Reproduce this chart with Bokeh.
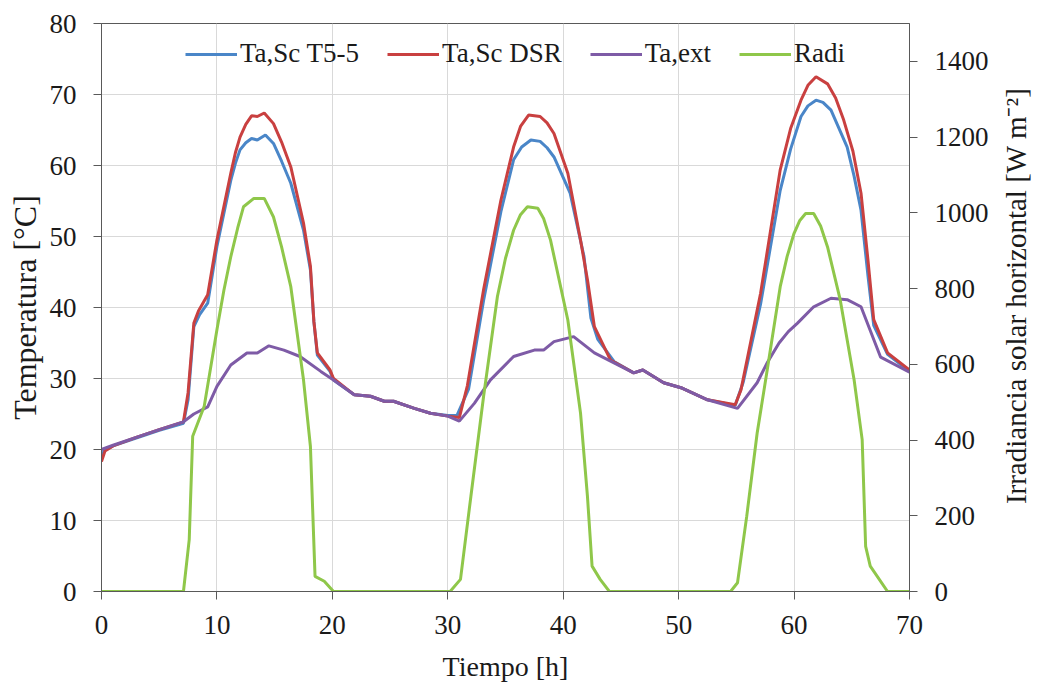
import math
from bokeh.plotting import figure
from bokeh.layouts import row
from bokeh.models import Range1d, LinearAxis, FixedTicker, Legend, LegendItem, Label
from bokeh.embed import file_html
from bokeh.resources import INLINE

# ---- data ----
t_t55 = [0, 0.3, 1, 3, 5, 7.1, 7.5, 8.0, 8.5, 9.2, 10.0, 11.2, 11.6, 12.0, 12.5, 13.0, 13.5, 14.2,
         14.9, 15.6, 16.4, 17.5, 18.1, 18.4, 18.7, 19.8, 20.1, 21.9, 23.3, 24.5, 25.3, 27.1, 28.5,
         30.0, 30.8, 31.8, 33.1, 34.6, 35.7, 36.4, 37.2, 38.0, 38.6, 39.2, 40.6, 41.8, 42.4, 43.0,
         44.4, 46.1, 46.9, 48.7, 50.2, 52.5, 54.9, 55.6, 57.1, 58.8, 59.7, 60.6, 61.2, 61.9, 62.5,
         63.2, 64.6, 65.2, 65.8, 66.4, 66.9, 68.1, 70.0]
T_t55 = [19.3, 19.9, 20.5, 21.6, 22.7, 23.7, 27.0, 37.3, 39.0, 40.6, 48.6, 57.9, 60.3, 62.2, 63.2,
         63.8, 63.6, 64.3, 63.1, 60.6, 57.5, 50.9, 45.3, 38.0, 33.3, 31.0, 29.8, 27.7, 27.5, 26.8,
         26.8, 25.8, 25.1, 24.8, 24.8, 28.5, 41.0, 53.5, 60.8, 62.6, 63.6, 63.4, 62.5, 61.2, 56.1,
         47.2, 38.5, 35.5, 32.4, 30.8, 31.2, 29.4, 28.7, 27.0, 26.2, 29.5, 40.5, 56.5, 62.3, 66.9,
         68.4, 69.2, 68.9, 67.8, 62.6, 58.5, 53.7, 44.5, 37.5, 33.4, 31.0]

t_dsr = [0, 0.3, 1, 3, 5, 7.1, 7.5, 8.0, 8.4, 9.2, 10.0, 11.2, 11.6, 12.0, 12.5, 13.0, 13.5, 14.1,
         14.9, 15.6, 16.4, 17.5, 18.1, 18.4, 18.7, 19.8, 20.1, 21.9, 23.3, 24.5, 25.3, 27.1, 28.5,
         30.0, 31.0, 31.7, 33.1, 34.6, 35.7, 36.3, 37.0, 38.0, 38.6, 39.2, 40.4, 41.5, 42.1, 42.7,
         44.1, 46.1, 46.9, 48.7, 50.2, 52.5, 54.9, 55.4, 57.1, 58.8, 59.7, 60.6, 61.2, 61.9, 62.9,
         63.6, 64.3, 65.1, 65.8, 66.4, 66.9, 68.1, 70.0]
T_dsr = [18.3, 19.8, 20.5, 21.7, 22.8, 23.9, 28.0, 37.8, 39.5, 41.8, 49.5, 58.9, 61.8, 64.0, 65.8,
         67.0, 66.9, 67.4, 65.9, 63.3, 59.8, 51.9, 45.8, 38.0, 33.6, 31.2, 30.0, 27.7, 27.5, 26.8,
         26.8, 25.8, 25.1, 24.7, 24.5, 29.0, 42.5, 55.1, 62.6, 65.5, 67.1, 66.9, 66.0, 64.5, 58.9,
         49.5, 43.9, 37.3, 32.6, 30.8, 31.2, 29.4, 28.7, 27.0, 26.3, 28.4, 42.0, 59.4, 65.2, 69.2,
         71.3, 72.5, 71.5, 69.5, 66.4, 62.0, 56.1, 46.7, 38.3, 33.6, 31.2]

t_ext = [0, 1, 3, 5, 7.1, 8, 9.2, 10.0, 11.2, 12.6, 13.5, 14.5, 15.8, 17.2, 19.0, 20.1, 21.9, 23.3,
         24.5, 25.3, 27.1, 28.5, 30.0, 31.0, 32.3, 33.7, 35.7, 37.5, 38.3, 39.2, 40.9, 42.7, 44.4,
         46.1, 46.9, 48.7, 50.2, 52.5, 55.1, 56.8, 57.7, 58.7, 59.5, 60.3, 61.7, 63.2, 64.6, 65.8,
         67.5, 70.0]
T_ext = [20.0, 20.6, 21.7, 22.8, 23.9, 25.0, 26.0, 28.9, 31.9, 33.6, 33.6, 34.6, 34.0, 33.1, 31.0,
         29.8, 27.7, 27.5, 26.8, 26.8, 25.8, 25.1, 24.7, 24.0, 26.5, 29.8, 33.1, 34.0, 34.0, 35.2,
         35.9, 33.6, 32.2, 30.8, 31.2, 29.4, 28.7, 27.0, 25.8, 29.4, 32.3, 35.0, 36.6, 37.8, 40.1,
         41.3, 41.1, 40.1, 33.0, 30.9]

t_rad = [0, 7.1, 7.6, 7.9, 8.9, 10.0, 10.6, 11.2, 11.8, 12.3, 13.2, 14.1, 14.9, 15.6, 16.4, 17.5,
         18.1, 18.5, 19.3, 20.1, 30.2, 31.1, 32.0, 33.1, 34.3, 35.0, 35.7, 36.3, 36.9, 37.8, 38.3,
         38.9, 40.4, 41.5, 42.1, 42.5, 43.2, 44.0, 54.5, 55.1, 55.9, 56.8, 57.7, 58.8, 59.4, 60.0,
         60.5, 61.0, 61.7, 62.3, 62.9, 64.0, 65.2, 65.9, 66.2, 66.6, 68.1, 70.0]
R_rad = [0, 0, 137, 410, 489, 691, 795, 884, 960, 1016, 1038, 1038, 989, 910, 805, 559, 383, 40, 27,
         0, 0, 32, 251, 515, 779, 880, 954, 995, 1016, 1012, 985, 928, 717, 471, 251, 67, 32, 0, 0,
         23, 199, 418, 590, 805, 885, 946, 980, 998, 998, 965, 910, 770, 559, 401, 119, 67, 0, 0]

x_ticks = [0, 10, 20, 30, 40, 50, 60, 70]
y_ticks = [0, 10, 20, 30, 40, 50, 60, 70, 80]
r_ticks = [0, 200, 400, 600, 800, 1000, 1200, 1400]
right_title = "Irradiancia solar horizontal [W m⁻²]"

FONT = "Liberation Serif"
AXC = "#595959"
TXT = "#1a1a1a"
H = 684

p = figure(width=996, height=H, x_range=Range1d(0, 70), y_range=Range1d(0, 80),
           output_backend="svg", toolbar_location=None,
           min_border_left=101, min_border_right=87, min_border_top=23, min_border_bottom=92)
p.extra_y_ranges = {"rad": Range1d(0, 1500)}

p.outline_line_color = AXC
p.outline_line_width = 1
p.background_fill_color = "white"

def style_axis(ax, label_size):
    ax.major_label_text_font = FONT
    ax.major_label_text_font_size = "27px"
    ax.major_label_text_color = TXT
    ax.axis_label_text_font = FONT
    ax.axis_label_text_font_size = label_size
    ax.axis_label_text_font_style = "normal"
    ax.axis_label_text_color = TXT
    ax.axis_line_color = AXC
    ax.major_tick_line_color = AXC
    ax.major_tick_out = 8
    ax.major_tick_in = 0
    ax.minor_tick_line_color = None

style_axis(p.xaxis[0], "28px")
style_axis(p.yaxis[0], "32px")
p.xaxis.ticker = FixedTicker(ticks=x_ticks)
p.yaxis.ticker = FixedTicker(ticks=y_ticks)
p.xaxis.axis_label = "Tiempo [h]"
p.yaxis.axis_label = "Temperatura [°C]"
p.xaxis.major_label_standoff = 16
p.xaxis.axis_label_standoff = 14
p.yaxis.major_label_standoff = 17
p.yaxis.axis_label_standoff = 4

ra = LinearAxis(y_range_name="rad", ticker=FixedTicker(ticks=r_ticks))
style_axis(ra, "29px")
ra.major_label_standoff = 17
p.add_layout(ra, "right")

p.xgrid.grid_line_color = "#d9d9d9"
p.ygrid.grid_line_color = "#d9d9d9"
p.xgrid.ticker = FixedTicker(ticks=x_ticks)
p.ygrid.ticker = FixedTicker(ticks=y_ticks)

r1 = p.line(t_t55, T_t55, line_color="#4A86C8", line_width=3)
r2 = p.line(t_dsr, T_dsr, line_color="#C94040", line_width=3)
r3 = p.line(t_ext, T_ext, line_color="#7E5BA6", line_width=3)
r4 = p.line(t_rad, R_rad, line_color="#8FC74A", line_width=3, y_range_name="rad")

legend = Legend(items=[LegendItem(label="Ta,Sc T5-5", renderers=[r1]),
                       LegendItem(label="Ta,Sc DSR", renderers=[r2]),
                       LegendItem(label="Ta,ext", renderers=[r3]),
                       LegendItem(label="Radi", renderers=[r4])],
                orientation="horizontal", location=(84, 522),
                label_text_font=FONT, label_text_font_size="27px", label_text_color=TXT,
                glyph_width=52, glyph_height=30, label_standoff=3, spacing=28,
                padding=0, margin=0, background_fill_alpha=0, border_line_alpha=0,
                label_height=30)
p.add_layout(legend)

# narrow strip to the right holding the right-axis title (reads bottom-to-top)
q = figure(width=40, height=H, x_range=Range1d(0, 40), y_range=Range1d(0, H),
           output_backend="svg", toolbar_location=None,
           x_axis_location=None, y_axis_location=None,
           min_border_left=0, min_border_right=0, min_border_top=0, min_border_bottom=0)
q.outline_line_color = None
q.xgrid.visible = False
q.ygrid.visible = False
q.add_layout(Label(x=19, y=356, text=right_title, angle=math.pi / 2,
                   text_font=FONT, text_font_size="29px", text_color=TXT,
                   text_align="center", text_baseline="middle"))

layout = row(p, q)
open("out.html", "w").write(file_html(layout, INLINE))
